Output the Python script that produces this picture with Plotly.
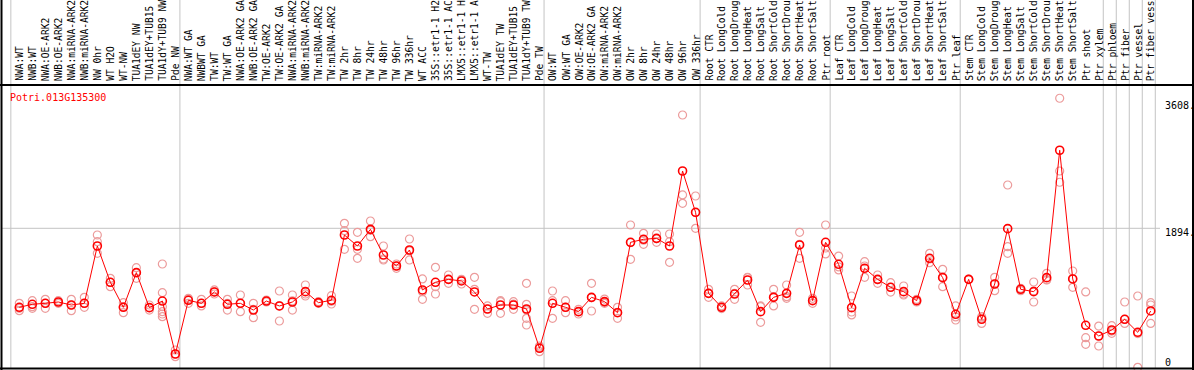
import plotly.graph_objects as go

W, H = 1194, 370

# column labels as they appear (truncated by the label band in the reference)
labels = [
    # group 1
    "NWA:WT", "NWB:WT", "NWA:OE-ARK2", "NWB:OE-ARK2", "NWA:miRNA-ARK2", "NWB:miRNA-ARK2",
    "NW 0hr", "WT H2O", "WT-NW", "TUA1dEY NW", "TUA1dEY+TUB15", "TUA1dY+TUB9 NW", "Pde NW",
    # group 2
    "NWA:WT GA", "NWBWT GA", "TW:WT", "TW:WT GA", "NWA:OE-ARK2 GA", "NWB:OE-ARK2 GA",
    "TW:OE-ARK2", "TW:OE-ARK2 GA", "NWA:miRNA-ARK2", "NWB:miRNA-ARK2", "TW:miRNA-ARK2",
    "TW:miRNA-ARK2", "TW 2hr", "TW 8hr", "TW 24hr", "TW 48hr", "TW 96hr", "TW 336hr", "WT ACC",
    "35S::etr1-1 H2", "35S::etr1-1 AC", "LMX5::etr1-1 H", "LMX5::etr1-1 A", "WT-TW",
    "TUA1dEY TW", "TUA1dEY+TUB15", "TUA1dY+TUB9 TW", "Pde TW",
    # group 3
    "OW:WT", "OW:WT GA", "OW:OE-ARK2", "OW:OE-ARK2 GA", "OW:miRNA-ARK2", "OW:miRNA-ARK2",
    "OW 2hr", "OW 8hr", "OW 24hr", "OW 48hr", "OW 96hr", "OW 336hr",
    # group 4
    "Root CTR", "Root LongCold", "Root LongDroug", "Root LongHeat", "Root LongSalt",
    "Root ShortCold", "Root ShortDrou", "Root ShortHeat", "Root ShortSalt", "Ptr root",
    # group 5
    "Leaf CTR", "Leaf LongCold", "Leaf LongDroug", "Leaf LongHeat", "Leaf LongSalt",
    "Leaf ShortCold", "Leaf ShortDrou", "Leaf ShortHeat", "Leaf ShortSalt", "Ptr leaf",
    # group 6
    "Stem CTR", "Stem LongCold", "Stem LongDroug", "Stem LongHeat", "Stem LongSalt",
    "Stem ShortCold", "Stem ShortDrou", "Stem ShortHeat", "Stem ShortSalt", "Ptr shoot", "Ptr xylem",
    # group 7
    "Ptr phloem", "Ptr fiber", "Ptr vessel", "Ptr fiber vess",
]

# index of first column of each group (plus end)
group_starts = [0, 13, 41, 53, 63, 73, 84, 85, 86, 87, 88]

means = [
    823, 864, 877, 895, 854, 877, 1654, 1162, 823, 1293, 818, 908, 190,
    918, 877, 1031, 864, 877, 786, 908, 841, 895, 1035, 886, 918, 1803, 1654, 1880, 1532,
    1383, 1600, 1058, 1162, 1202, 1180, 1031, 800, 854, 854, 800, 267,
    877, 823, 764, 958, 900, 750, 1704, 1745, 1758, 1654, 2671, 2111,
    1012, 823, 1003, 1193, 764, 958, 1012, 1668, 913, 1704,
    1406, 818, 1352, 1202, 1094, 1035, 913, 1487, 1225, 728,
    1202, 660, 1139, 1889, 1067, 1035, 1225, 2952, 1207, 579, 434,
    515, 660, 484, 773,
]

samples = [
    [877, 809, 777], [913, 809, 832], [931, 809, 877], [913, 877, 895], [931, 777, 854],
    [958, 822, 877], [1803, 1713, 1555], [1216, 1103, 1162], [886, 750, 832], [1360, 1216, 1293],
    [854, 786, 818], [1410, 1021, 832, 764, 732, 696], [244, 153, 190],
    [944, 877, 931], [931, 841, 877], [1058, 1003, 1031], [931, 786, 877], [990, 764, 877],
    [877, 682, 795], [922, 908, 895], [1044, 637, 841], [990, 786, 909], [1125, 976, 1003],
    [899, 877, 886], [981, 868, 904], [1961, 1862, 1609], [1840, 1609, 1487], [1993, 1781, 1866],
    [1654, 1464, 1478], [1410, 1351, 1383], [1749, 1464, 1587], [1207, 931, 1035],
    [1365, 1103, 1003], [1261, 1148, 1202], [1202, 1139, 1193], [1229, 1067, 795],
    [841, 741, 800], [913, 741, 900], [899, 795, 868], [1148, 863, 786, 673, 583], [298, 221, 280],
    [1044, 673, 913], [913, 750, 822], [795, 732, 764], [1148, 773, 954], [935, 877, 890],
    [822, 673, 755], [1939, 1473, 1700], [1826, 1677, 1732], [1817, 1704, 1754],
    [1817, 1713, 1433], [3430, 2346, 2233], [2332, 1894, 2107],
    [1067, 958, 1012], [841, 822, 806], [1067, 931, 1012], [1229, 1125, 1225], [841, 619, 832],
    [1067, 841, 967], [1125, 944, 967], [1840, 1487, 1677], [944, 877, 918], [1939, 1546, 1627],
    [1518, 1329, 1370], [976, 719, 759], [1442, 1229, 1383], [1261, 1148, 1197], [1157, 1030, 1094],
    [1112, 990, 1003], [931, 913, 895], [1555, 1428, 1478], [1338, 1103, 1234], [841, 651, 692],
    [1202, 1202, 1202], [696, 605, 678], [1229, 1049, 1139], [2481, 1645, 1555], [1080, 1049, 1072],
    [1166, 895, 1044], [1283, 1193, 1198], [3657, 2671, 2518], [1315, 1094, 1211],
    [1031, 411, 321], [569, 298, 434],
    [574, 470, 500], [895, 605, 660], [976, 9, 467], [886, 854, 605],
]

gene = "Potri.013G135300"
y_ticks = [3608, 1894, 0]
y_tick_text = ["3608.", "1894.", "0"]

# ---- pixel geometry helpers ----
x0_px, dx_px = 19.3, 13.005          # pixel of first column, column pitch
y0_px, ky = 368.0, 1894 / 139.7      # pixel of value 0, value per pixel
xr = [(-x0_px) / dx_px, (W - x0_px) / dx_px]
yr = [-(H - y0_px) * ky, y0_px * ky]


def px(p):   # paper x from pixel
    return p / W


def py(p):   # paper y from pixel (top-down)
    return 1 - p / H


n = len(labels)
xs = list(range(n))

fig = go.Figure()

sx, sy = [], []
for i, vals in enumerate(samples):
    for v in vals:
        sx.append(i)
        sy.append(v)

fig.add_trace(go.Scatter(
    x=sx, y=sy, mode="markers",
    marker=dict(symbol="circle-open", size=8, color="#ec9c9c", line=dict(width=1.2, color="#ec9c9c")),
    hoverinfo="skip", showlegend=False, cliponaxis=False,
))
fig.add_trace(go.Scatter(
    x=xs, y=means, mode="lines+markers",
    line=dict(color="#ff0000", width=1),
    marker=dict(symbol="circle-open", size=8, color="#ff0000", line=dict(width=1.6, color="#ff0000")),
    showlegend=False, cliponaxis=False,
))

shapes = []
# vertical group separators
for s in group_starts:
    shapes.append(dict(type="line", xref="x", yref="paper", x0=s - 0.65, x1=s - 0.65, y0=py(H - 1), y1=1,
                       line=dict(color="#c4c4c4", width=1), layer="below"))
# gridline at middle value
shapes.append(dict(type="line", xref="paper", yref="y", x0=px(1), x1=px(1160), y0=1894, y1=1894,
                   line=dict(color="#c4c4c4", width=1), layer="below"))
# frame
shapes.append(dict(type="line", xref="paper", yref="paper", x0=0, x1=1, y0=py(85), y1=py(85),
                   line=dict(color="black", width=2)))
shapes.append(dict(type="line", xref="paper", yref="paper", x0=0, x1=1, y0=py(368.5), y1=py(368.5),
                   line=dict(color="black", width=2)))
shapes.append(dict(type="line", xref="paper", yref="paper", x0=px(1.5), x1=px(1.5), y0=0, y1=1,
                   line=dict(color="black", width=2)))
shapes.append(dict(type="line", xref="paper", yref="paper", x0=px(1193), x1=px(1193), y0=0, y1=1,
                   line=dict(color="black", width=2)))

annotations = []
for i, lab in enumerate(labels):
    annotations.append(dict(
        x=i, xref="x", y=py(83), yref="paper", text=lab, textangle=-90,
        xanchor="center", yanchor="bottom", showarrow=False,
        font=dict(family="DejaVu Sans Mono", size=9.6, color="black"),
    ))
annotations.append(dict(
    x=px(8), xref="paper", y=py(97), yref="paper", text=gene, xanchor="left", yanchor="middle",
    showarrow=False, font=dict(family="DejaVu Sans Mono", size=10, color="#ff0000"),
))
for v, t in zip(y_ticks, y_tick_text):
    shift = -4 if v > 0 else 6
    annotations.append(dict(
        x=px(1163), xref="paper", y=v, yref="y", yshift=shift, text=t, xanchor="left", yanchor="middle",
        showarrow=False, font=dict(family="DejaVu Sans Mono", size=10, color="black"),
    ))

fig.update_layout(
    width=W, height=H, margin=dict(l=0, r=0, t=0, b=0, pad=0),
    paper_bgcolor="white", plot_bgcolor="white",
    xaxis=dict(range=xr, visible=False, fixedrange=True),
    yaxis=dict(range=yr, visible=False, fixedrange=True),
    shapes=shapes, annotations=annotations, showlegend=False,
)

fig.write_html("out.html", config={"displayModeBar": False},
               post_script="document.body.style.margin='0';document.body.style.overflow='hidden';")
